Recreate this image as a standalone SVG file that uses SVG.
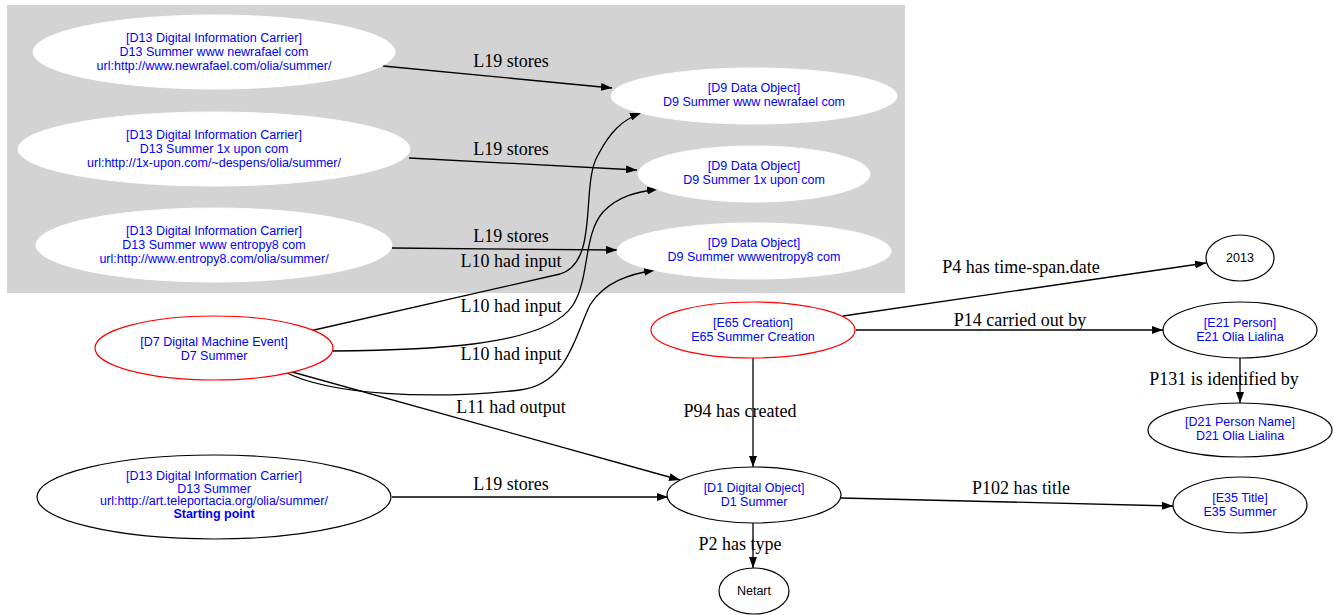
<svg xmlns="http://www.w3.org/2000/svg" width="1333" height="615" viewBox="0 0 1333 615">
<style>
.n{font-family:"Liberation Sans",Arial,sans-serif;font-size:12.5px;fill:#0000ff;text-anchor:middle}
.nb{font-family:"Liberation Sans",Arial,sans-serif;font-size:12.5px;fill:#000;text-anchor:middle}
.e{font-family:"Liberation Serif","Times New Roman",serif;font-size:18px;fill:#000;text-anchor:middle}
.w{fill:#fff;stroke:#fff}
.k{fill:#fff;stroke:#000;stroke-width:1.2}
.r{fill:#fff;stroke:#ff0000;stroke-width:1.2}
.c path{fill:none;stroke:#000;stroke-width:1.3;marker-end:url(#a)}
</style>
<defs>
<marker id="a" markerUnits="userSpaceOnUse" markerWidth="11" markerHeight="8" refX="11" refY="4" orient="auto"><path d="M0,0 L11,4 L0,8 z" fill="#000"/></marker>
</defs>
<rect x="7" y="5" width="898" height="288" fill="#d3d3d3"/>
<g class="c">
<path d="M383,66 L612,88"/>
<path d="M409,158 L637,170"/>
<path d="M392,248 L617,250"/>
<path d="M301,333 L560,274 C600,262 580,185 598,155 C610,132 622,120 641,113"/>
<path d="M332,351 C420,350 545,348 573,305 C590,278 583,235 603,212 C618,196 637,192 658,189"/>
<path d="M285,372 C330,395 430,400 520,390 C568,384 575,335 590,305 C604,282 630,274 655,270"/>
<path d="M285,370 L680,480"/>
<path d="M392,497 L668,497"/>
<path d="M843,316 L1206,263"/>
<path d="M856,330 L1163,330"/>
<path d="M1240,358 L1240,403"/>
<path d="M753,358 L753,467"/>
<path d="M841,498 L1173,506"/>
<path d="M753,523 L753,568"/>
</g>
<g id="labels">
<text class="e" x="511" y="67">L19 stores</text>
<text class="e" x="511" y="155">L19 stores</text>
<text class="e" x="511" y="242">L19 stores</text>
<text class="e" x="511" y="267">L10 had input</text>
<text class="e" x="511" y="312">L10 had input</text>
<text class="e" x="511" y="360">L10 had input</text>
<text class="e" x="511" y="413">L11 had output</text>
<text class="e" x="511" y="490">L19 stores</text>
<text class="e" x="1021" y="273">P4 has time-span.date</text>
<text class="e" x="1020" y="326">P14 carried out by</text>
<text class="e" x="1224" y="385">P131 is identified by</text>
<text class="e" x="740" y="417">P94 has created</text>
<text class="e" x="1021" y="494">P102 has title</text>
<text class="e" x="740" y="550">P2 has type</text>
</g>
<g id="d13_newrafael">
<ellipse class="w" cx="214" cy="52" rx="181" ry="37"/>
<text class="n" x="214" y="42">[D13 Digital Information Carrier]</text>
<text class="n" x="214" y="56">D13 Summer www newrafael com</text>
<text class="n" x="214" y="70">url:http://www.newrafael.com/olia/summer/</text>
</g>
<g id="d13_1xupon">
<ellipse class="w" cx="214" cy="149" rx="196" ry="37"/>
<text class="n" x="214" y="139">[D13 Digital Information Carrier]</text>
<text class="n" x="214" y="153">D13 Summer 1x upon com</text>
<text class="n" x="214" y="167">url:http://1x-upon.com/~despens/olia/summer/</text>
</g>
<g id="d13_entropy8">
<ellipse class="w" cx="214" cy="245" rx="178" ry="37"/>
<text class="n" x="214" y="235">[D13 Digital Information Carrier]</text>
<text class="n" x="214" y="249">D13 Summer www entropy8 com</text>
<text class="n" x="214" y="263">url:http://www.entropy8.com/olia/summer/</text>
</g>
<g id="d9_newrafael">
<ellipse class="w" cx="754" cy="96" rx="143" ry="28"/>
<text class="n" x="754" y="92">[D9 Data Object]</text>
<text class="n" x="754" y="106">D9 Summer www newrafael com</text>
</g>
<g id="d9_1xupon">
<ellipse class="w" cx="754" cy="174" rx="116" ry="28"/>
<text class="n" x="754" y="170">[D9 Data Object]</text>
<text class="n" x="754" y="184">D9 Summer 1x upon com</text>
</g>
<g id="d9_entropy8">
<ellipse class="w" cx="754" cy="251" rx="137" ry="28"/>
<text class="n" x="754" y="247">[D9 Data Object]</text>
<text class="n" x="754" y="261">D9 Summer wwwentropy8 com</text>
</g>
<g id="d7">
<ellipse class="r" cx="214" cy="348" rx="119" ry="32"/>
<text class="n" x="214" y="346">[D7 Digital Machine Event]</text>
<text class="n" x="214" y="360">D7 Summer</text>
</g>
<g id="d13_summer">
<ellipse class="k" cx="214" cy="497" rx="177" ry="42"/>
<text class="n" x="214" y="480">[D13 Digital Information Carrier]</text>
<text class="n" x="214" y="493">D13 Summer</text>
<text class="n" x="214" y="505">url:http://art.teleportacia.org/olia/summer/</text>
<text class="n" x="214" y="518" font-weight="bold">Starting point</text>
</g>
<g id="e65">
<ellipse class="r" cx="753" cy="330" rx="102" ry="28"/>
<text class="n" x="753" y="327">[E65 Creation]</text>
<text class="n" x="753" y="341">E65 Summer Creation</text>
</g>
<g id="y2013">
<ellipse class="k" cx="1240" cy="258" rx="34" ry="23"/>
<text class="nb" x="1240" y="262">2013</text>
</g>
<g id="e21">
<ellipse class="k" cx="1240" cy="330" rx="77" ry="28"/>
<text class="n" x="1240" y="327">[E21 Person]</text>
<text class="n" x="1240" y="341">E21 Olia Lialina</text>
</g>
<g id="d21">
<ellipse class="k" cx="1240" cy="430" rx="92" ry="27"/>
<text class="n" x="1240" y="426">[D21 Person Name]</text>
<text class="n" x="1240" y="440">D21 Olia Lialina</text>
</g>
<g id="d1">
<ellipse class="k" cx="754" cy="495" rx="87" ry="28"/>
<text class="n" x="754" y="492">[D1 Digital Object]</text>
<text class="n" x="754" y="506">D1 Summer</text>
</g>
<g id="e35">
<ellipse class="k" cx="1240" cy="505" rx="67" ry="28"/>
<text class="n" x="1240" y="502">[E35 Title]</text>
<text class="n" x="1240" y="516">E35 Summer</text>
</g>
<g id="netart">
<ellipse class="k" cx="754" cy="591" rx="35" ry="23"/>
<text class="nb" x="754" y="595">Netart</text>
</g>
</svg>
